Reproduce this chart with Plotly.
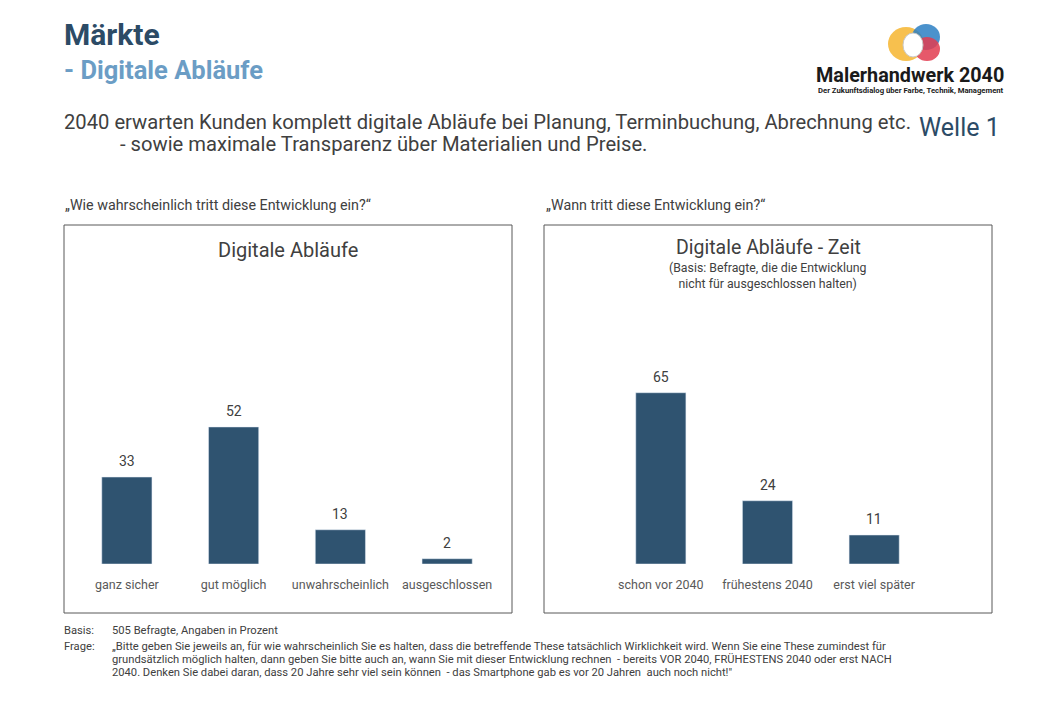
import plotly.graph_objects as go

# Daten
kat_wahrsch = ["ganz sicher", "gut möglich", "unwahrscheinlich", "ausgeschlossen"]
werte_wahrsch = [33, 52, 13, 2]

kat_zeit = ["schon vor 2040", "frühestens 2040", "erst viel später"]
werte_zeit = [65, 24, 11]

W, H = 1040, 720
OFF = 8  # Seitenrand des Browsers
FONT = "Roboto"
BAR = "#2f5370"
GRAU = "#404040"
DUNKEL = "#2c4b66"
HELL = "#6b9dc5"


def px(x, y):
    # Pixel im Bild -> paper
    return (x - OFF) / W, 1 - (y - OFF) / H


fig = go.Figure()

fig.add_trace(go.Bar(x=kat_wahrsch, y=werte_wahrsch, marker_color=BAR, width=0.47,
                     xaxis="x", yaxis="y", showlegend=False, hoverinfo="x+y"))
fig.add_trace(go.Bar(x=kat_zeit, y=werte_zeit, marker_color=BAR, width=0.47,
                     xaxis="x2", yaxis="y2", showlegend=False, hoverinfo="x+y"))

annos = []
# Werte über den Balken
for k, v in zip(kat_wahrsch, werte_wahrsch):
    annos.append(dict(x=k, y=v, xref="x", yref="y", text=str(v), showarrow=False,
                      yshift=16, font=dict(size=14, color=GRAU)))
for k, v in zip(kat_zeit, werte_zeit):
    annos.append(dict(x=k, y=v, xref="x2", yref="y2", text=str(v), showarrow=False,
                      yshift=16, font=dict(size=14, color=GRAU)))


def txt(x, y, text, size, color=GRAU, anchor="left", bold=False, family=FONT):
    xp, yp = px(x, y)
    if bold:
        text = "<b>" + text + "</b>"
    annos.append(dict(x=xp, y=yp, xref="paper", yref="paper", text=text, showarrow=False,
                      xanchor=anchor, yanchor="middle", align=anchor,
                      font=dict(size=size, color=color, family=family)))


# Überschriften
txt(62, 35, "Märkte", 30, DUNKEL, bold=True)
txt(62, 70, "- Digitale Abläufe", 25.5, HELL, bold=True)
txt(62, 122, "2040 erwarten Kunden komplett digitale Abläufe bei Planung, Terminbuchung, Abrechnung etc.", 20.2)
txt(118, 144, "- sowie maximale Transparenz über Materialien und Preise.", 20.2)
txt(1002, 128, "Welle 1", 25, DUNKEL, anchor="right")

# Logo-Text
txt(1006, 75, "Malerhandwerk 2040", 19.8, "#1a1a1a", anchor="right", bold=True)
txt(1006, 90, "Der Zukunftsdialog über Farbe, Technik, Management", 7.7, "#1a1a1a", anchor="right", bold=True)

# Fragen
txt(63, 205, "„Wie wahrscheinlich tritt diese Entwicklung ein?“", 14.3)
txt(544, 205, "„Wann tritt diese Entwicklung ein?“", 14.3)

# Diagrammtitel
txt(288, 250, "Digitale Abläufe", 20, anchor="center")
txt(768, 248, "Digitale Abläufe - Zeit", 19.5, anchor="center")
txt(768, 276, "(Basis: Befragte, die die Entwicklung<br>nicht für ausgeschlossen halten)", 12.3, anchor="center")

# Fußnote
txt(62, 630, "Basis:", 11.2)
txt(110, 630, "505 Befragte, Angaben in Prozent", 11.2)
txt(62, 646, "Frage:", 11.2)
frage = ["„Bitte geben Sie jeweils an, für wie wahrscheinlich Sie es halten, dass die betreffende These tatsächlich Wirklichkeit wird. Wenn Sie eine These zumindest für",
         "grundsätzlich möglich halten, dann geben Sie bitte auch an, wann Sie mit dieser Entwicklung rechnen  - bereits VOR 2040, FRÜHESTENS 2040 oder erst NACH",
         "2040. Denken Sie dabei daran, dass 20 Jahre sehr viel sein können  - das Smartphone gab es vor 20 Jahren  auch noch nicht!\""]
for i, zeile in enumerate(frage):
    txt(110, 646 + i * 13, zeile, 11.2)

# Rahmen und Logo
shapes = []
for x0, x1 in [(64, 512), (544, 992)]:
    a, b = px(x0, 225)
    c, d = px(x1, 613)
    shapes.append(dict(type="rect", xref="paper", yref="paper", x0=a, y0=d, x1=c, y1=b,
                       line=dict(color="#595959", width=1)))


def kreis(cx, cy, rx, ry, farbe, op, linie=None):
    a, b = px(cx - rx, cy - ry)
    c, d = px(cx + rx, cy + ry)
    shapes.append(dict(type="circle", xref="paper", yref="paper", x0=a, y0=d, x1=c, y1=b,
                       fillcolor=farbe, opacity=op, line=dict(width=0 if linie is None else 1,
                                                              color=linie or farbe)))


kreis(906, 44, 18, 17, "#f6b93b", 0.9)
kreis(926, 37, 14, 13, "#2b7fc3", 0.85)
kreis(927, 49, 13, 12, "#e23c50", 0.85)
kreis(913, 45, 10, 12, "#ffffff", 1, "#c8c8c8")

y_dom = [1 - (564 - OFF) / H, 1 - (300.5 - OFF) / H]
fig.update_layout(
    width=W, height=H,
    margin=dict(l=0, r=0, t=0, b=0),
    paper_bgcolor="white", plot_bgcolor="white",
    font=dict(family=FONT, color=GRAU),
    annotations=annos,
    shapes=shapes,
    xaxis=dict(domain=[(73.5 - OFF) / W, (500.5 - OFF) / W], showgrid=False, zeroline=False,
               showline=False, ticks="", tickfont=dict(size=12.5, color="#595959"),
               ticklabelstandoff=11, fixedrange=True),
    yaxis=dict(domain=y_dom, range=[0, 100], visible=False, fixedrange=True),
    xaxis2=dict(domain=[(607.5 - OFF) / W, (927.5 - OFF) / W], showgrid=False, zeroline=False,
                showline=False, ticks="", tickfont=dict(size=12.5, color="#595959"),
                ticklabelstandoff=11, anchor="y2", fixedrange=True),
    yaxis2=dict(domain=y_dom, range=[0, 100], visible=False, anchor="x2", fixedrange=True),
)

fig.write_html("out.html")
